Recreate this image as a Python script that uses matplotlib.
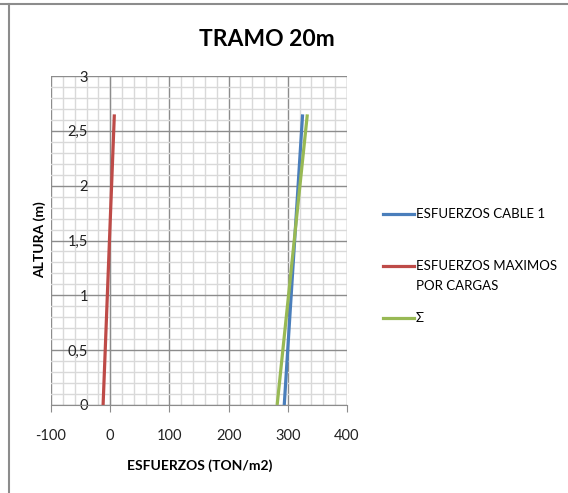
import matplotlib
matplotlib.use('Agg')
import matplotlib.pyplot as plt
from matplotlib.lines import Line2D
from matplotlib.ticker import MultipleLocator, FixedLocator

plt.rcParams['font.family'] = ['Lato', 'DejaVu Sans']
plt.rcParams['axes.unicode_minus'] = False

# datos
altura = [0, 2.65]
cable1 = [294, 325]
cargas = [-12, 7]
suma = [282, 333]

series = ['ESFUERZOS CABLE 1', 'ESFUERZOS MAXIMOS\nPOR CARGAS', 'Σ']
colores = ['#4A7EBB', '#BE4B48', '#98B954']
x_ticks = [-100, 0, 100, 200, 300, 400]
y_ticks = [0, 0.5, 1, 1.5, 2, 2.5, 3]
y_labels = ['0', '0,5', '1', '1,5', '2', '2,5', '3']

fig = plt.figure(figsize=(5.68, 4.93), dpi=100)
ax = fig.add_axes([51 / 568, 1 - 405 / 493, 296 / 568, 329 / 493])

for vals, c in zip([cable1, cargas, suma], colores):
    ax.plot(vals, altura, color=c, lw=2.3, solid_capstyle='butt', zorder=3)

ax.set_xlim(-100, 400)
ax.set_ylim(0, 3)
ax.xaxis.set_major_locator(FixedLocator(x_ticks))
ax.xaxis.set_minor_locator(MultipleLocator(20))
ax.yaxis.set_major_locator(FixedLocator(y_ticks))
ax.yaxis.set_minor_locator(MultipleLocator(0.1))
ax.set_yticklabels(y_labels)

ax.grid(which='minor', color='#D9D9D9', lw=1.0, zorder=0)
ax.grid(which='major', color='#8C8C8C', lw=1.0, zorder=1)
ax.set_axisbelow(True)

for s in ['top', 'right']:
    ax.spines[s].set_visible(False)
ax.spines['left'].set_position(('data', 0))
ax.spines['left'].set_color('#8C8C8C')
ax.spines['bottom'].set_color('#8C8C8C')

ax.tick_params(axis='x', which='major', length=5, color='#8C8C8C', pad=12,
               labelsize=10.5, labelcolor='#222222')
ax.tick_params(axis='y', which='major', length=0, pad=16,
               labelsize=10.5, labelcolor='#222222')
ax.tick_params(which='minor', length=0)

fig.text(267 / 568, 1 - 40 / 493, 'TRAMO 20m', ha='center', va='center',
         fontsize=16.5, fontweight='bold')
fig.text(200 / 568, 1 - 466 / 493, 'ESFUERZOS (TON/m2)', ha='center', va='center',
         fontsize=10, fontweight='bold')
fig.text(40 / 568, 1 - 240 / 493, 'ALTURA (m)', ha='center', va='center',
         rotation=90, fontsize=10, fontweight='bold')

# leyenda
ys = [214, 266, 318]
for lab, c, y in zip(series, colores, ys):
    fy = 1 - y / 493
    fig.add_artist(Line2D([383 / 568, 414 / 568], [fy, fy], color=c, lw=2.3,
                          transform=fig.transFigure))
    fig.text(416 / 568, fy + 6 / 493, lab, ha='left', va='top', fontsize=9.5,
             linespacing=1.75)

# borde de la captura
fig.add_artist(Line2D([0, 1], [1 - 4 / 493, 1 - 4 / 493], color='#8C8C8C', lw=1.5,
                      transform=fig.transFigure))
fig.add_artist(Line2D([9 / 568, 9 / 568], [0, 1 - 4 / 493], color='#8C8C8C', lw=1.5,
                      transform=fig.transFigure))

fig.savefig('out.png', dpi=100)
